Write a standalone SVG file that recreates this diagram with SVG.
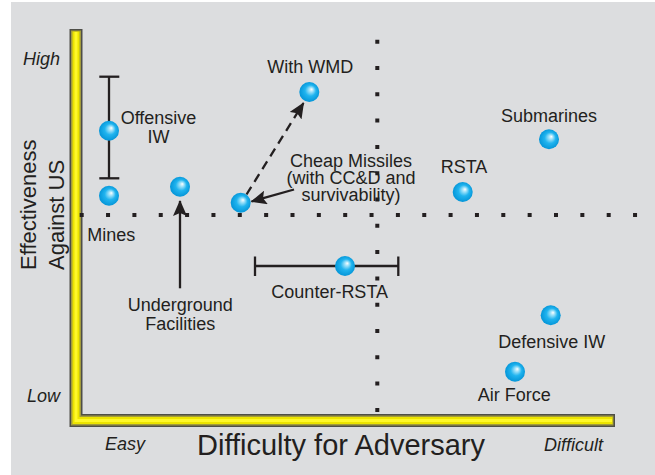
<svg xmlns="http://www.w3.org/2000/svg" width="655" height="475" viewBox="0 0 655 475">
<defs>
<style>
text{font-family:"Liberation Sans",Arial,sans-serif;fill:#231f20;}
.lbl{font-size:18px;text-anchor:middle;}
.ax{font-size:18px;font-style:italic;}
.big{font-size:29px;}
.yl{font-size:22px;}
.ln{stroke:#231f20;stroke-width:2.3;fill:none;}
.dots{stroke:#231f20;stroke-width:4;fill:none;}
.sph{fill:url(#ball);}
</style>
<radialGradient id="ball" cx="0.5" cy="0.5" r="0.55" fx="0.62" fy="0.36">
<stop offset="0" stop-color="#ffffff"/>
<stop offset="0.18" stop-color="#a6e4fa"/>
<stop offset="0.5" stop-color="#20b4ef"/>
<stop offset="1" stop-color="#0090d4"/>
</radialGradient>
<marker id="ah" viewBox="0 0 16 14" refX="15" refY="7" markerWidth="16" markerHeight="14" markerUnits="userSpaceOnUse" orient="auto">
<path d="M0,0 L16,7 L0,14 L3,7 z" fill="#231f20"/>
</marker>
</defs>
<rect x="0" y="0" width="655" height="475" fill="#ffffff"/>
<rect x="11" y="2" width="644" height="473" fill="#dcdddf"/>

<g id="axes">
<path d="M76,29 V420.5 H615" fill="none" stroke="#4e4e48" stroke-width="13" stroke-linejoin="miter"/>
<path d="M76,30.5 V420.5 H613.5" fill="none" stroke="#a39c3c" stroke-width="10" stroke-linejoin="miter"/>
<path d="M76,31.5 V420.5 H612.5" fill="none" stroke="#ece400" stroke-width="7" stroke-linejoin="miter"/>
<path d="M76,32 V420.5 H612" fill="none" stroke="#fff82a" stroke-width="3" stroke-linejoin="miter"/>
<text class="ax" x="60" y="65" text-anchor="end">High</text>
<text class="ax" x="60" y="401.7" text-anchor="end">Low</text>
<text class="ax" x="105" y="450">Easy</text>
<text class="ax" x="544" y="450.7">Difficult</text>
<text class="big" x="341" y="455" text-anchor="middle">Difficulty for Adversary</text>
<text class="yl" transform="translate(36,270) rotate(-90)">Effectiveness</text>
<text class="yl" transform="translate(63.5,270) rotate(-90)">Against US</text>
</g>

<g id="grid">
<line class="dots" x1="79.7" y1="215" x2="637.5" y2="215" stroke-dasharray="4 22.35"/>
<line class="dots" x1="377.3" y1="39.7" x2="377.3" y2="412" stroke-dasharray="4 22.3"/>
</g>

<g id="connectors">
<line class="ln" x1="109" y1="76.7" x2="109" y2="178.3"/>
<line class="ln" x1="99.3" y1="76.7" x2="119.3" y2="76.7"/>
<line class="ln" x1="99.3" y1="178.3" x2="119.3" y2="178.3"/>
<line class="ln" x1="255" y1="266" x2="398.3" y2="266"/>
<line class="ln" x1="255" y1="256.5" x2="255" y2="276"/>
<line class="ln" x1="398.3" y1="256.5" x2="398.3" y2="276"/>
<line class="ln" x1="180" y1="288.3" x2="180" y2="201" marker-end="url(#ah)"/>
<line class="ln" x1="294" y1="189.5" x2="251.5" y2="201.5" marker-end="url(#ah)"/>
<line class="ln" x1="246.5" y1="194.5" x2="303.5" y2="103" stroke-dasharray="9 6" marker-end="url(#ah)"/>
</g>

<g id="offensive-iw">
<circle class="sph" cx="109" cy="130.7" r="10"/>
<text class="lbl" x="158.5" y="124.3">Offensive</text>
<text class="lbl" x="158.5" y="143.3">IW</text>
</g>
<g id="mines">
<circle class="sph" cx="109" cy="195.7" r="10"/>
<text class="lbl" x="111.2" y="241">Mines</text>
</g>
<g id="underground-facilities">
<circle class="sph" cx="180" cy="186.7" r="10"/>
<text class="lbl" x="180.3" y="311">Underground</text>
<text class="lbl" x="180.3" y="330">Facilities</text>
</g>
<g id="cheap-missiles">
<circle class="sph" cx="240.7" cy="202.7" r="10"/>
<text class="lbl" x="351" y="166.7">Cheap Missiles</text>
<text class="lbl" x="351" y="184">(with CC&amp;D and</text>
<text class="lbl" x="351" y="201">survivability)</text>
</g>
<g id="with-wmd">
<circle class="sph" cx="309.3" cy="92" r="10"/>
<text class="lbl" x="310.3" y="72.7">With WMD</text>
</g>
<g id="rsta">
<circle class="sph" cx="462.7" cy="192" r="10"/>
<text class="lbl" x="464" y="172.7">RSTA</text>
</g>
<g id="submarines">
<circle class="sph" cx="549" cy="139.3" r="10"/>
<text class="lbl" x="549" y="121.7">Submarines</text>
</g>
<g id="counter-rsta">
<circle class="sph" cx="345" cy="266" r="10"/>
<text class="lbl" x="329.7" y="298.3">Counter-RSTA</text>
</g>
<g id="defensive-iw">
<circle class="sph" cx="550.7" cy="315.3" r="10"/>
<text class="lbl" x="551.7" y="348.3">Defensive IW</text>
</g>
<g id="air-force">
<circle class="sph" cx="515" cy="371.7" r="10"/>
<text class="lbl" x="514.3" y="400.7">Air Force</text>
</g>
</svg>
